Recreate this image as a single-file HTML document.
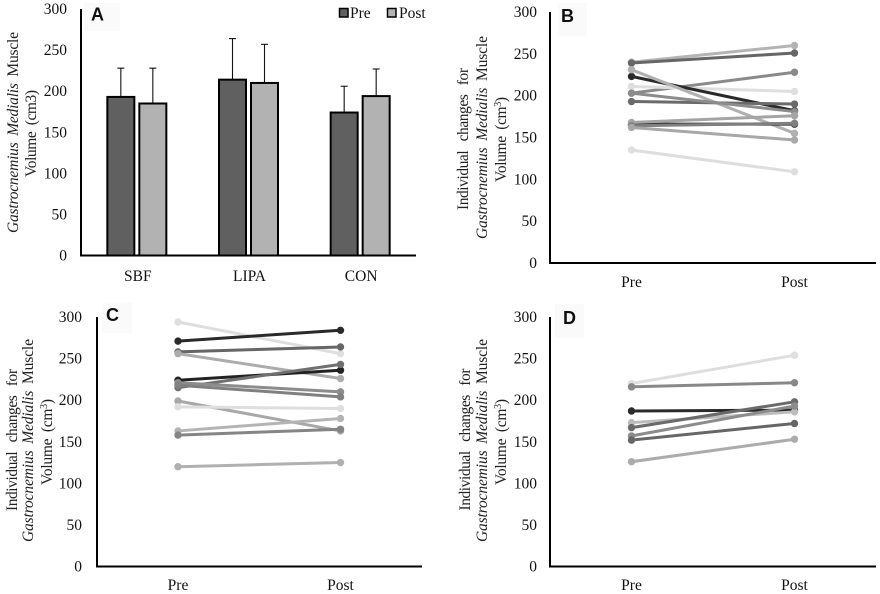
<!DOCTYPE html>
<html lang="en">
<head>
<meta charset="utf-8">
<title>Gastrocnemius Medialis Muscle Volume</title>
<style>
html,body{margin:0;padding:0;background:#fff;}
svg{display:block;filter:blur(0.35px);}
text{font-family:"Liberation Serif",serif;font-size:15.5px;fill:#111;}
.letter{font-family:"Liberation Sans",sans-serif;font-weight:bold;font-size:18px;fill:#111;}
.title{font-size:15.5px;fill:#222;word-spacing:3px;}
</style>
</head>
<body>
<svg id="chart" width="880" height="594" viewBox="0 0 880 594" xmlns="http://www.w3.org/2000/svg">
  <rect x="0" y="0" width="880" height="594" fill="#fff"/>

  <rect x="84" y="3" width="36" height="28" fill="#fafafa"/>
  <text class="letter" x="91" y="20.5">A</text>
  <rect x="558" y="3" width="29" height="33" fill="#fafafa"/>
  <text class="letter" x="561" y="22">B</text>
  <rect x="102" y="303" width="30" height="30" fill="#fafafa"/>
  <text class="letter" x="106" y="321">C</text>
  <rect x="555" y="304" width="29" height="34" fill="#fafafa"/>
  <text class="letter" x="563" y="324">D</text>

  <text class="title" transform="translate(18 132.5) rotate(-90)" text-anchor="middle" textLength="201" lengthAdjust="spacing"><tspan font-style="italic">Gastrocnemius Medialis</tspan> Muscle</text>
  <text class="title" transform="translate(36 133.5) rotate(-90)" text-anchor="middle" textLength="87" lengthAdjust="spacing">Volume (cm3)</text>

  <text class="title" transform="translate(468 139) rotate(-90)" text-anchor="middle" textLength="142" lengthAdjust="spacing" style="word-spacing:6px">Individual changes for</text>
  <text class="title" transform="translate(487 137.5) rotate(-90)" text-anchor="middle" textLength="203" lengthAdjust="spacing"><tspan font-style="italic">Gastrocnemius Medialis</tspan> Muscle</text>
  <text class="title" transform="translate(506 139.5) rotate(-90)" text-anchor="middle" textLength="85" lengthAdjust="spacing">Volume (cm<tspan font-size="10" dy="-5">3</tspan><tspan dy="5">)</tspan></text>

  <text class="title" transform="translate(17 440) rotate(-90)" text-anchor="middle" textLength="142" lengthAdjust="spacing" style="word-spacing:6px">Individual changes for</text>
  <text class="title" transform="translate(33 440.5) rotate(-90)" text-anchor="middle" textLength="203" lengthAdjust="spacing"><tspan font-style="italic">Gastrocnemius Medialis</tspan> Muscle</text>
  <text class="title" transform="translate(52 442) rotate(-90)" text-anchor="middle" textLength="86" lengthAdjust="spacing">Volume (cm<tspan font-size="10" dy="-5">3</tspan><tspan dy="5">)</tspan></text>

  <text class="title" transform="translate(470 439.5) rotate(-90)" text-anchor="middle" textLength="142" lengthAdjust="spacing" style="word-spacing:6px">Individual changes for</text>
  <text class="title" transform="translate(487 440.5) rotate(-90)" text-anchor="middle" textLength="203" lengthAdjust="spacing"><tspan font-style="italic">Gastrocnemius Medialis</tspan> Muscle</text>
  <text class="title" transform="translate(506 442) rotate(-90)" text-anchor="middle" textLength="86" lengthAdjust="spacing">Volume (cm<tspan font-size="10" dy="-5">3</tspan><tspan dy="5">)</tspan></text>

  <g id="marks"></g>

  <rect x="339.5" y="8.5" width="8.5" height="8.5" fill="#606060" stroke="#000" stroke-width="1.5"/>
  <text x="350" y="18">Pre</text>
  <rect x="387.5" y="8.5" width="8.5" height="8.5" fill="#b2b2b2" stroke="#000" stroke-width="1.5"/>
  <text x="399" y="18">Post</text>
</svg>
<script>
var yTicks = [0, 50, 100, 150, 200, 250, 300];
var barGroups = ['SBF', 'LIPA', 'CON'];
var barPre = [193, 214, 174];
var barPost = [185, 210, 194];
var barPreTop = [228, 264, 206];
var barPostTop = [228, 257, 227];
var timeLabels = ['Pre', 'Post'];

var panelBPre  = [240, 239, 203, 211, 223, 231, 193, 203, 166, 168, 164, 162, 135];
var panelBPost = [260, 251, 228, 205, 182, 155, 190, 181, 166, 176, 167, 147, 109];
var panelBGrey = ['#b4b4b4', '#666666', '#8a8a8a', '#dedede', '#2a2a2a', '#b0b0b0', '#6a6a6a', '#8c8c8c', '#303030', '#a4a4a4', '#808080', '#a8a8a8', '#dedede'];

var panelCPre  = [294, 271, 258, 256, 224, 215, 221, 218, 199, 192, 163, 158, 120];
var panelCPost = [256, 284, 264, 226, 236, 243, 210, 204, 163, 190, 178, 165, 125];
var panelCGrey = ['#dedede', '#2a2a2a', '#666666', '#acacac', '#222222', '#707070', '#8c8c8c', '#808080', '#a8a8a8', '#dedede', '#b4b4b4', '#858585', '#b0b0b0'];

var panelDPre  = [220, 216, 187, 173, 167, 157, 152, 126];
var panelDPost = [254, 221, 188, 186, 198, 193, 172, 153];
var panelDGrey = ['#dedede', '#888888', '#2a2a2a', '#bcbcbc', '#6a6a6a', '#8c8c8c', '#666666', '#acacac'];

var NS = 'http://www.w3.org/2000/svg';
var root = document.getElementById('marks');

function make(tag, attrs, parent) {
  var el = document.createElementNS(NS, tag);
  for (var k in attrs) { el.setAttribute(k, attrs[k]); }
  (parent || root).appendChild(el);
  return el;
}
function yScale(frame) {
  return function (v) { return frame.y0 - (v / 300) * (frame.y0 - frame.y300); };
}
function drawAxes(frame, key) {
  var y = yScale(frame);
  yTicks.forEach(function (t) {
    var label = make('text', { x: frame.tickRight, y: y(t) + 5, 'text-anchor': 'end' });
    
    
    label.textContent = t;
  });
  var yAxis = make('line', { x1: frame.x0, x2: frame.x0, y1: frame.y300, y2: frame.y0 + 1, stroke: '#000', 'stroke-width': 2 });
  
  
  var xAxis = make('line', { x1: frame.x0 - 1, x2: frame.x1, y1: frame.y0, y2: frame.y0, stroke: '#000', 'stroke-width': 2 });
  
  
}
function drawBars(frame) {
  var y = yScale(frame);
  var band = (frame.x1 - frame.x0) / barGroups.length;
  barGroups.forEach(function (name, i) {
    var c = frame.x0 + band * (i + 0.5);
    [[barPre[i], barPreTop[i], -16, '#606060', 'pre'], [barPost[i], barPostTop[i], 16, '#b2b2b2', 'post']].forEach(function (b) {
      var cx = c + b[2];
      var err = make('line', { x1: cx, x2: cx, y1: y(b[0]), y2: y(b[1]), stroke: '#111', 'stroke-width': 1.1 });
      
      
      var cap = make('line', { x1: cx - 3.5, x2: cx + 3.5, y1: y(b[1]), y2: y(b[1]), stroke: '#111', 'stroke-width': 1.1 });
      
      
      var bar = make('rect', { x: cx - 13.5, y: y(b[0]), width: 27, height: frame.y0 - y(b[0]), fill: b[3], stroke: '#000', 'stroke-width': 2 });
      
      
    });
    var label = make('text', { x: c + 1, y: frame.labelY, 'text-anchor': 'middle' });
    
    
    label.textContent = name;
  });
}
function drawLines(frame, key, pre, post, grey) {
  var y = yScale(frame);
  timeLabels.forEach(function (name, i) {
    var label = make('text', { x: i === 0 ? frame.xPre : frame.xPost, y: frame.labelY, 'text-anchor': 'middle' });
    
    
    label.textContent = name;
  });
  pre.forEach(function (v, i) {
    var g = make('g', {});
    
    
    make('line', { x1: frame.xPre, y1: y(v), x2: frame.xPost, y2: y(post[i]), stroke: grey[i], 'stroke-width': 3 }, g);
    make('circle', { cx: frame.xPre, cy: y(v), r: 3.7, fill: grey[i] }, g);
    make('circle', { cx: frame.xPost, cy: y(post[i]), r: 3.7, fill: grey[i] }, g);
  });
}

var frameA = { x0: 81, x1: 416, y0: 255.5, y300: 9, tickRight: 67, labelY: 281 };
var frameB = { x0: 550, x1: 876, y0: 263, y300: 12, tickRight: 537, labelY: 287, xPre: 631.5, xPost: 794.5 };
var frameC = { x0: 97, x1: 422, y0: 566.5, y300: 317, tickRight: 82, labelY: 590, xPre: 178, xPost: 340.5 };
var frameD = { x0: 550, x1: 876, y0: 566.5, y300: 317, tickRight: 537, labelY: 590, xPre: 631.5, xPost: 794.5 };

drawBars(frameA);
drawAxes(frameA, 'a');
drawLines(frameB, 'b', panelBPre, panelBPost, panelBGrey);
drawAxes(frameB, 'b');
drawLines(frameC, 'c', panelCPre, panelCPost, panelCGrey);
drawAxes(frameC, 'c');
drawLines(frameD, 'd', panelDPre, panelDPost, panelDGrey);
drawAxes(frameD, 'd');
</script>
</body>
</html>
